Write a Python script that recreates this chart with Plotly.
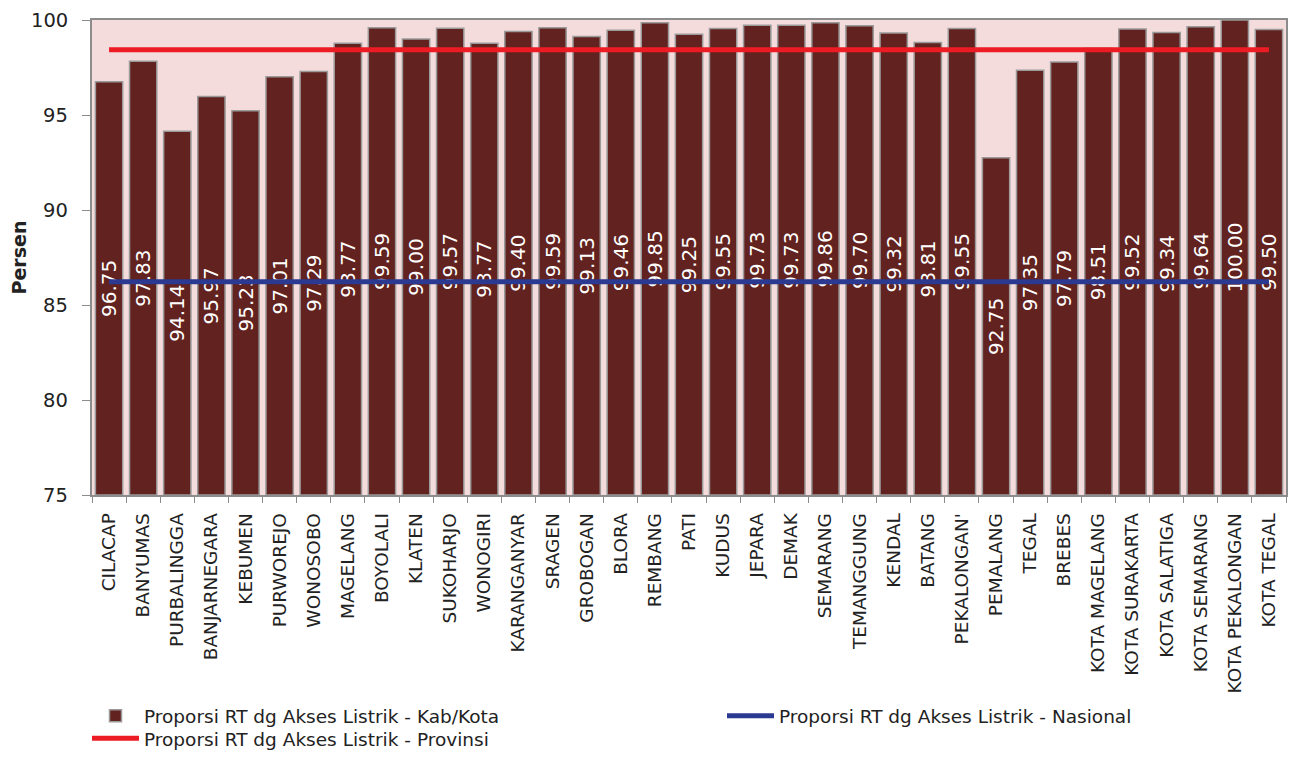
import plotly.graph_objects as go

categories = ["CILACAP", "BANYUMAS", "PURBALINGGA", "BANJARNEGARA", "KEBUMEN", "PURWOREJO",
              "WONOSOBO", "MAGELANG", "BOYOLALI", "KLATEN", "SUKOHARJO", "WONOGIRI",
              "KARANGANYAR", "SRAGEN", "GROBOGAN", "BLORA", "REMBANG", "PATI", "KUDUS",
              "JEPARA", "DEMAK", "SEMARANG", "TEMANGGUNG", "KENDAL", "BATANG",
              "PEKALONGAN'", "PEMALANG", "TEGAL", "BREBES", "KOTA MAGELANG",
              "KOTA SURAKARTA", "KOTA SALATIGA", "KOTA SEMARANG", "KOTA PEKALONGAN", "KOTA TEGAL"]
kab_kota = [96.75, 97.83, 94.14, 95.97, 95.23, 97.01, 97.29, 98.77, 99.59, 99.00, 99.57, 98.77,
            99.40, 99.59, 99.13, 99.46, 99.85, 99.25, 99.55, 99.73, 99.73, 99.86, 99.70, 99.32,
            98.81, 99.55, 92.75, 97.35, 97.79, 98.51, 99.52, 99.34, 99.64, 100.00, 99.50]
provinsi = 98.44
nasional = 86.22
axis_base = 75
y_ticks = [75, 80, 85, 90, 95, 100]

FONT = "DejaVu Sans"
TXT = "#222222"

W, H = 1293, 765
ML, MR, MT, MB = 92, 7, 20, 266
PW, PH = W - ML - MR, H - MT - MB


def px_x(px):
    return (px - ML) / PW


def px_y(py):
    return (H - MB - py) / PH


fig = go.Figure()
fig.add_trace(go.Bar(
    x=categories,
    y=[v - axis_base for v in kab_kota],
    base=axis_base,
    text=[f"{v:.2f}" for v in kab_kota],
    textposition="inside",
    insidetextanchor="middle",
    textangle=-90,
    constraintext="none",
    textfont=dict(color="white", size=20, family=FONT),
    marker=dict(color="#62221F", line=dict(color="#9A9A9A", width=1.5)),
    name="Proporsi RT dg Akses Listrik - Kab/Kota",
    legend="legend",
))
fig.add_trace(go.Scatter(
    x=categories, y=[nasional] * len(categories), mode="lines",
    line=dict(color="#2B3990", width=5),
    name="Proporsi RT dg Akses Listrik - Nasional",
    legend="legend2",
))
fig.add_trace(go.Scatter(
    x=categories, y=[provinsi] * len(categories), mode="lines",
    line=dict(color="#ED1C24", width=5),
    name="Proporsi RT dg Akses Listrik - Provinsi",
    legend="legend3",
))

leg_common = dict(
    xanchor="left",
    orientation="v", font=dict(size=18.5, family=FONT, color=TXT),
    bgcolor="rgba(0,0,0,0)", itemwidth=47,
)

fig.update_layout(
    width=W, height=H,
    margin=dict(l=ML, r=MR, t=MT, b=MB),
    paper_bgcolor="white",
    plot_bgcolor="#F4DCDD",
    bargap=0.2,
    font=dict(family=FONT, color=TXT),
    showlegend=True,
    legend=dict(x=px_x(87), y=px_y(722), yanchor="middle", **leg_common),
    legend2=dict(x=px_x(722), y=px_y(722), yanchor="middle", **leg_common),
    legend3=dict(x=px_x(87), y=px_y(764), yanchor="bottom", **leg_common),
)
fig.update_xaxes(
    tickangle=-90, tickfont=dict(size=18.5, family=FONT, color=TXT),
    showline=True, linecolor="#8C8C8C", linewidth=1.5, mirror=True,
    ticks="outside", tickson="boundaries", ticklen=6, tickcolor="#8C8C8C",
    ticklabelstandoff=9,
    showgrid=False, automargin=False,
)
fig.update_yaxes(
    range=[axis_base, 100], tickvals=y_ticks, showticklabels=False,
    showline=True, linecolor="#8C8C8C", linewidth=1.5, mirror=True,
    ticks="outside", ticklen=8, tickcolor="#8C8C8C",
    showgrid=False, zeroline=False, automargin=False,
)
# y tick labels, placed on the y axis scale with a wider gap than the default
for t in y_ticks:
    fig.add_annotation(
        x=0, xref="paper", y=t, yref="y", text=str(t), showarrow=False,
        xanchor="right", yanchor="middle", xshift=-22,
        font=dict(size=19.5, family=FONT, color=TXT),
    )
# y axis title
fig.add_annotation(
    x=0, xref="paper", y=0.5, yref="paper", text="<b>Persen</b>", showarrow=False,
    textangle=-90, xanchor="center", yanchor="middle", xshift=18 - ML,
    font=dict(size=19, family=FONT, color=TXT),
)

fig.write_html(
    "out.html",
    config={"displayModeBar": False},
    post_script="document.body.style.margin='0px';document.body.style.overflow='hidden';",
)
